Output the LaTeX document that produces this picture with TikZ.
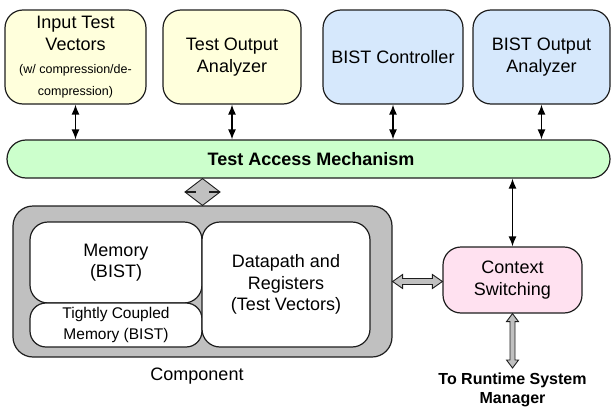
\documentclass[tikz,border=0pt]{standalone}
\usepackage{fontspec}
\setmainfont{Liberation Sans}
\usetikzlibrary{arrows.meta,calc}
\definecolor{cyellow}{HTML}{FFFFDC}
\definecolor{cblue}{HTML}{D6E8FC}
\definecolor{cgreen}{HTML}{CCFFCC}
\definecolor{cpink}{HTML}{FFE1F0}
\definecolor{cgray}{HTML}{C0C0C0}
\definecolor{cline}{HTML}{1E1E1E}
\begin{document}
\begin{tikzpicture}[x=1pt,y=-1pt,
  box/.style={draw=cline,line width=1.2pt,rounded corners=18pt,inner sep=0pt,align=center,
    font=\fontsize{18}{21.6}\selectfont},
  topbox/.style={box,minimum height=94pt},
  inbox/.style={box,fill=white},
  thin/.style={draw=black,line width=1.3pt,{Latex[length=10pt,width=8pt]}-{Latex[length=10pt,width=8pt]}},
  hollow/.style={draw=cline,fill=cgray,line width=0.9pt,line join=miter},
  lbl/.style={inner sep=0pt,align=center}]
\useasboundingbox (0,0) rectangle (611,407);

% top boxes
\node[topbox,fill=cyellow,minimum width=141pt] (itv) at (75.5,57)
  {Input Test\\Vectors\\[2pt]{\fontsize{12.5}{16}\selectfont (w/ compression/de-}\\{\fontsize{12.5}{16}\selectfont compression)}};
\node[topbox,fill=cyellow,minimum width=138pt] (toa) at (232,57) {Test Output\\Analyzer};
\node[topbox,fill=cblue,minimum width=140pt] (bc) at (393,57) {BIST Controller};
\node[topbox,fill=cblue,minimum width=137pt] (boa) at (541.5,57) {BIST Output\\Analyzer};

% TAM
\node[box,fill=cgreen,rounded corners=19pt,minimum width=603pt,minimum height=38pt,
  font=\fontsize{18}{21.6}\selectfont\bfseries] (tam) at (308.5,159) {\hspace*{5pt}Test Access Mechanism};

% component
\node[box,fill=cgray,rounded corners=20pt,minimum width=379pt,minimum height=151pt] (comp) at (202.5,281.5) {};
\node[inbox,minimum width=172pt,minimum height=81pt] (mem) at (116,262.5) {\raisebox{-6pt}{\parbox{150pt}{\centering Memory\\(BIST)}}};
\node[inbox,rounded corners=16pt,minimum width=172pt,minimum height=44pt,
  font=\fontsize{15.5}{20.5}\selectfont] (tcm) at (116,325) {Tightly Coupled\\Memory (BIST)};
\node[inbox,minimum width=168pt,minimum height=125pt] (dp) at (286,284.5) {Datapath and\\Registers\\(Test Vectors)};
\node[lbl,font=\fontsize{18}{21.6}\selectfont] (complbl) at (197,376) {Component};

% context switching
\node[box,fill=cpink,minimum width=139pt,minimum height=66pt,
  font=\fontsize{18}{22.5}\selectfont] (ctx) at (512.5,280) {Context\\Switching};
\coordinate (rt) at (512.5,368);
\node[lbl,font=\fontsize{16}{19}\selectfont\bfseries] (rtl) at (512.5,390) {To Runtime System\\Manager};

% thin arrows
\draw[thin] (itv.south) -- (itv.south |- tam.north);
\draw[thin] (toa.south) -- (toa.south |- tam.north);
\draw[thin] (bc.south) -- (bc.south |- tam.north);
\draw[thin] (boa.south) -- (boa.south |- tam.north);
\draw[thin] (ctx.north |- tam.south) -- (ctx.north);

% diamond double arrow TAM <-> component
\filldraw[hollow] let \p1=(comp.north |- tam.south), \p2=(comp.north) in
  (\x1,\y1) -- (\x1+17pt,\y1-13pt) -- (\x1+7pt,\y1-13pt) -- (\x1+7pt,\y2+13pt) -- (\x1+17pt,\y2+13pt)
  -- (\x1,\y2) -- (\x1-17pt,\y2+13pt) -- (\x1-7pt,\y2+13pt) -- (\x1-7pt,\y1-13pt) -- (\x1-17pt,\y1-13pt) -- cycle;

% horizontal hollow arrow component <-> context
\filldraw[hollow] let \p1=(comp.east), \p2=(ctx.west) in
  (\x1,\y1) -- (\x1+10pt,\y1+7pt) -- (\x1+10pt,\y1+3pt) -- (\x2-10pt,\y1+3pt) -- (\x2-10pt,\y1+7pt)
  -- (\x2,\y1) -- (\x2-10pt,\y1-7pt) -- (\x2-10pt,\y1-3pt) -- (\x1+10pt,\y1-3pt) -- (\x1+10pt,\y1-7pt) -- cycle;

% vertical hollow arrow context <-> runtime manager
\filldraw[hollow] let \p1=(ctx.south), \p2=(rt) in
  (\x1,\y1) -- (\x1+6pt,\y1-8pt) -- (\x1+2.5pt,\y1-8pt) -- (\x1+2.5pt,\y2+8pt) -- (\x1+6pt,\y2+8pt)
  -- (\x1,\y2) -- (\x1-6pt,\y2+8pt) -- (\x1-2.5pt,\y2+8pt) -- (\x1-2.5pt,\y1-8pt) -- (\x1-6pt,\y1-8pt) -- cycle;
\end{tikzpicture}
\end{document}
